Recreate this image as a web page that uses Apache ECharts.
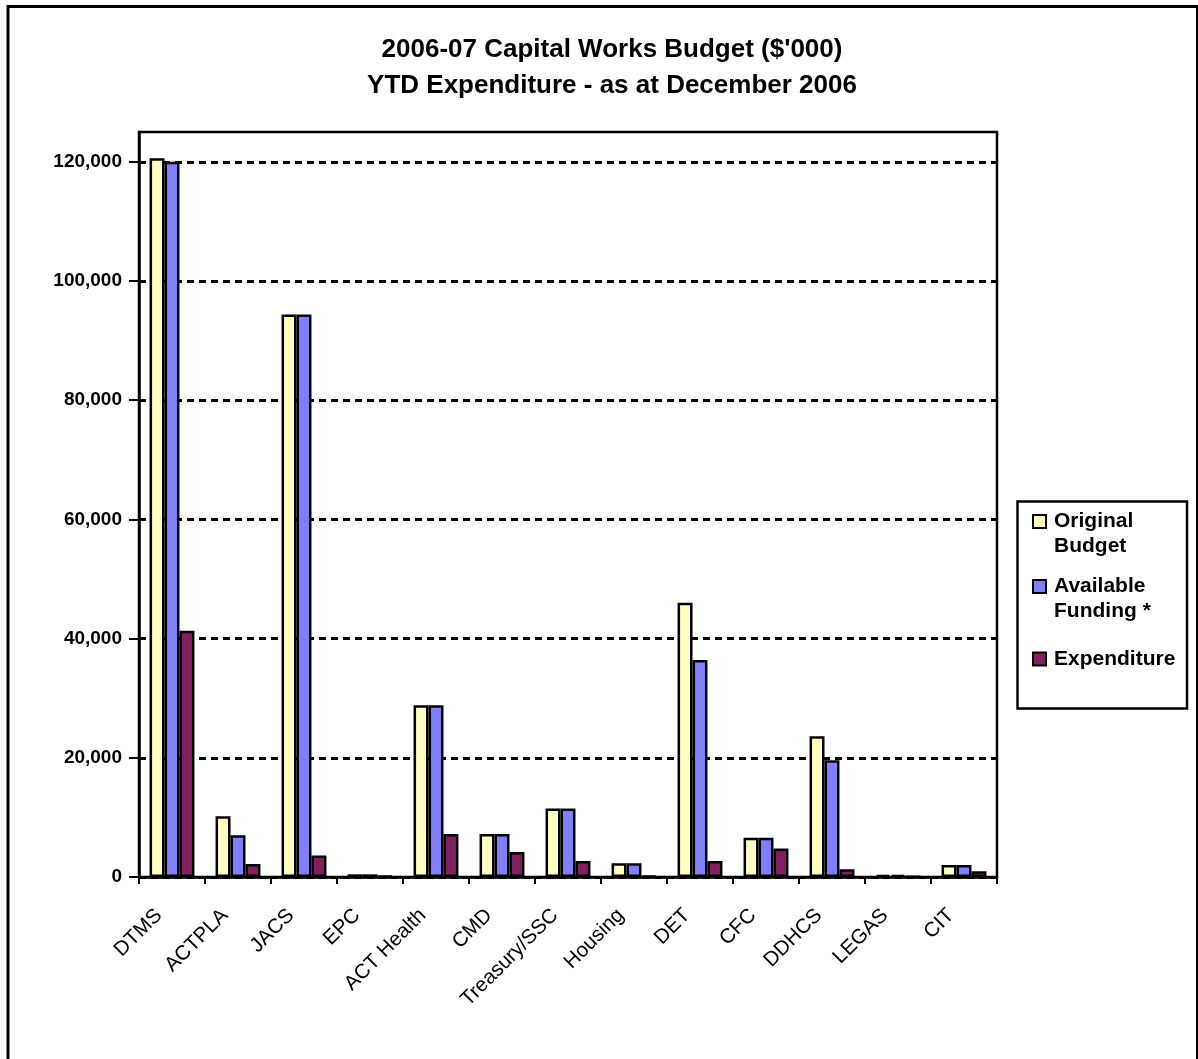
<!DOCTYPE html>
<html>
<head>
<meta charset="utf-8">
<script src="https://cdn.jsdelivr.net/npm/echarts@6/dist/echarts.min.js"></script>
<style>
  html, body { margin: 0; padding: 0; background: #fff; }
  #chart { width: 1198px; height: 1059px; }
</style>
</head>
<body>
<div id="chart"></div>
<script>
const titleLines = ["2006-07 Capital Works Budget ($'000)", "YTD Expenditure - as at December 2006"];
const categories = ["DTMS", "ACTPLA", "JACS", "EPC", "ACT Health", "CMD", "Treasury/SSC", "Housing", "DET", "CFC", "DDHCS", "LEGAS", "CIT"];
const seriesNames = ["Original\nBudget", "Available\nFunding *", "Expenditure"];
const originalBudget   = [120600, 10200, 94400, 450, 28800, 7200, 11500, 2300, 46000, 6600, 23600, 350, 2000];
const availableFunding = [120000,  7000, 94400, 450, 28800, 7200, 11500, 2300, 36400, 6600, 19600, 350, 2000];
const expenditure      = [ 41300,  2200,  3600, 150,  7200, 4200,  2700,  200,  2700, 4800,  1300,  50,  950];
const yTickValues = [0, 20000, 40000, 60000, 80000, 100000, 120000];
const yAxisMin = 0, yAxisMax = 125000, yAxisStep = 20000;

const FONT = '"Liberation Sans", Arial, sans-serif';
const colors = ['#FFFFC0', '#8080FF', '#802060'];

const chart = echarts.init(document.getElementById('chart'), null, { renderer: 'canvas' });

function bar(name, data, color) {
  return {
    name: name, type: 'bar', data: data,
    barGap: '0%', barCategoryGap: '32%',
    itemStyle: { color: color, borderColor: '#000', borderWidth: 2.5 }
  };
}

chart.setOption({
  animation: false,
  backgroundColor: '#fff',
  textStyle: { fontFamily: FONT },
  title: {
    text: titleLines.join('\n'),
    left: 607, top: 27, textAlign: 'center',
    textStyle: { fontFamily: FONT, fontSize: 26, fontWeight: 'bold', color: '#000', lineHeight: 36 }
  },
  grid: {
    left: 139, right: 201, top: 132, bottom: 182,
    show: true, borderColor: '#000', borderWidth: 2.5, backgroundColor: 'transparent'
  },
  legend: {
    orient: 'vertical', left: 1032, top: 509, itemGap: 15, padding: 0,
    itemWidth: 13, itemHeight: 38,
    itemStyle: { borderColor: '#000', borderWidth: 2 },
    textStyle: { fontFamily: FONT, fontSize: 21, fontWeight: 'bold', color: '#000', lineHeight: 25, padding: [0, 0, 0, 3] },
    data: [
      { name: seriesNames[0], icon: 'path://M0,0L10,0L10,10L0,10Z M0,29.2' },
      { name: seriesNames[1], icon: 'path://M0,0L10,0L10,10L0,10Z M0,29.2' },
      { name: seriesNames[2], icon: 'path://M0,-9.6 M0,0L10,0L10,10L0,10Z M0,19.6' }
    ]
  },
  xAxis: {
    type: 'category', data: categories,
    axisLine: { lineStyle: { color: '#000', width: 2.5 } },
    axisTick: { show: true, length: 7, lineStyle: { color: '#000', width: 2 } },
    axisLabel: { interval: 0, rotate: 45, margin: 37, verticalAlign: 'bottom', padding: [0, 8, 0, 0], fontFamily: FONT, fontSize: 20.5, color: '#000' }
  },
  yAxis: {
    type: 'value', min: yAxisMin, max: yAxisMax, interval: yAxisStep,
    axisLine: { show: true, lineStyle: { color: '#000', width: 2.5 } },
    axisTick: { show: true, length: 10, customValues: yTickValues, lineStyle: { color: '#000', width: 2 } },
    axisLabel: {
      margin: 17, fontFamily: FONT, fontSize: 19, fontWeight: 'bold', color: '#000',
      customValues: yTickValues,
      formatter: v => Number(v).toLocaleString('en-US')
    },
    splitLine: { show: true, lineStyle: { color: '#000', width: 3, type: [7, 5] } }
  },
  graphic: [
    { type: 'rect', shape: { x: 8, y: 6.5, width: 1189.5, height: 1100 }, style: { fill: 'none', stroke: '#000', lineWidth: 3 }, silent: true },
    { type: 'rect', shape: { x: 1017.5, y: 501.5, width: 169.5, height: 207 }, style: { fill: 'none', stroke: '#000', lineWidth: 2.5 }, silent: true }
  ],
  series: [
    bar(seriesNames[0], originalBudget, colors[0]),
    bar(seriesNames[1], availableFunding, colors[1]),
    bar(seriesNames[2], expenditure, colors[2])
  ]
});
</script>
</body>
</html>
